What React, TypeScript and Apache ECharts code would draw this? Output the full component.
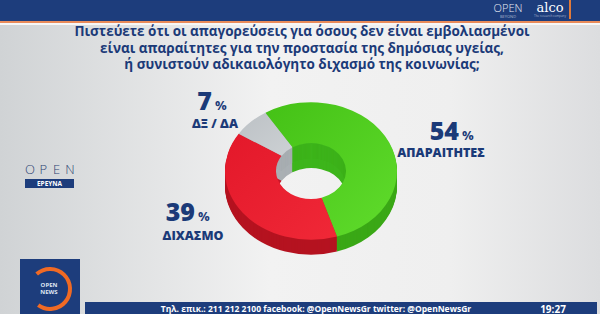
import React, { useEffect, useRef } from "react";
import * as echarts from "echarts";

const TITLE_LINES = [
  "Πιστεύετε ότι οι απαγορεύσεις για όσους δεν είναι εμβολιασμένοι",
  "είναι απαραίτητες για την προστασία της δημόσιας υγείας,",
  "ή συνιστούν αδικαιολόγητο διχασμό της κοινωνίας;",
];
const CATEGORIES = ["ΑΠΑΡΑΙΤΗΤΕΣ", "ΔΙΧΑΣΜΟ", "ΔΞ / ΔΑ"];
const VALUES = [54, 39, 7];
const TOP_COLORS = [
  ["#44c116", "#60dc2c"],
  ["#e3182a", "#f02837"],
  ["#bcc1c5", "#cdd1d4"],
];
const SIDE_COLORS = ["#3aa816", "#b51320", "#9ba1a6"];
const INNER_COLORS = ["#3db51b", "#c8172a", "#aab0b4"];
const TICKER = "Τηλ. επικ.: 211 212 2100 facebook: @OpenNewsGr twitter: @OpenNewsGr";
const CLOCK = "19:27";

// layout (not data)
const CX = 311;
const CY = 171;
const R = 86;
const R0 = 35;
const SY = 0.8;
const DEPTH = 15;
const INNER_DEPTH = 25;
const START_DEG = -32;
// [number right x, baseline y, name center x, name top y]
const LABEL_LAYOUT = [
  [459, 142, 441, 146],
  [195, 223, 193, 229],
  [212, 112, 215, 117],
];
const NAVY = "#1b3a78";
const FONT = "'Open Sans', 'Noto Sans', sans-serif";

function sliceAngles(i: number, v: number) {
  const total = VALUES.reduce((a, b) => a + b, 0);
  let acc = 0;
  for (let k = 0; k < i; k++) acc += VALUES[k];
  const s = START_DEG + (acc / total) * 360;
  const e = s + (v / total) * 360;
  return [((s - 90) * Math.PI) / 180, ((e - 90) * Math.PI) / 180];
}

export default function App() {
  const ref = useRef<HTMLDivElement>(null);
  useEffect(() => {
    document.body.style.margin = "0";
    const chart = echarts.init(ref.current!, null, { renderer: "svg" });
    const data = CATEGORIES.map((name, i) => ({ name, value: VALUES[i] }));

    const sideSeries: any = {
      type: "custom",
      coordinateSystem: "none",
      z: 2,
      data,
      renderItem: (params: any, api: any) => {
        const i = params.dataIndex;
        const [a0, a1] = sliceAngles(i, api.value(0));
        const children: any[] = [];
        for (let d = INNER_DEPTH; d > DEPTH; d--) {
          children.push({
            type: "group",
            x: CX,
            y: CY + d,
            scaleY: SY,
            children: [
              {
                type: "sector",
                shape: { cx: 0, cy: 0, r: R0 + 10, r0: R0, startAngle: a0, endAngle: a1, clockwise: true },
                style: { fill: INNER_COLORS[i] },
              },
            ],
          });
        }
        for (let d = DEPTH; d >= 1; d--) {
          children.push({
            type: "group",
            x: CX,
            y: CY + d,
            scaleY: SY,
            children: [
              {
                type: "sector",
                shape: { cx: 0, cy: 0, r: R, r0: R0, startAngle: a0, endAngle: a1, clockwise: true },
                style: { fill: SIDE_COLORS[i] },
              },
              {
                type: "sector",
                shape: { cx: 0, cy: 0, r: R0 + 10, r0: R0, startAngle: a0, endAngle: a1, clockwise: true },
                style: { fill: INNER_COLORS[i] },
              },
            ],
          });
        }
        return { type: "group", children };
      },
    };

    const topSeries: any = {
      type: "custom",
      coordinateSystem: "none",
      z: 3,
      data,
      renderItem: (params: any, api: any) => {
        const i = params.dataIndex;
        const v = api.value(0);
        const [a0, a1] = sliceAngles(i, v);
        const [nx, ny, tx, ty] = LABEL_LAYOUT[i];
        return {
          type: "group",
          children: [
            {
              type: "group",
              x: CX,
              y: CY,
              scaleY: SY,
              children: [
                {
                  type: "sector",
                  shape: { cx: 0, cy: 0, r: R, r0: R0, startAngle: a0, endAngle: a1, clockwise: true },
                  style: {
                    fill: new echarts.graphic.LinearGradient(0, 0, 1, 1, [
                      { offset: 0, color: TOP_COLORS[i][0] },
                      { offset: 1, color: TOP_COLORS[i][1] },
                    ]),
                  },
                },
              ],
            },
            {
              type: "text",
              x: nx,
              y: ny,
              style: {
                text: String(v),
                fill: NAVY,
                font: `900 25px ${FONT}`,
                textAlign: "right",
                textVerticalAlign: "bottom",
              },
            },
            {
              type: "text",
              x: nx + 3,
              y: ny - 1,
              style: {
                text: "%",
                fill: NAVY,
                font: `bold 13px ${FONT}`,
                textAlign: "left",
                textVerticalAlign: "bottom",
              },
            },
            {
              type: "text",
              x: tx,
              y: ty,
              style: {
                text: CATEGORIES[i],
                fill: NAVY,
                font: `800 12.5px ${FONT}`,
                textAlign: "center",
                textVerticalAlign: "top",
              },
            },
          ],
        };
      },
    };

    const openLetters = ["O", "P", "E", "N"];
    const graphic: any[] = [
      {
        type: "rect",
        z: -10,
        shape: { x: 0, y: 0, width: 600, height: 314 },
        style: {
          fill: new echarts.graphic.LinearGradient(0, 0, 1, 0, [
            { offset: 0, color: "#d0d3d5" },
            { offset: 0.45, color: "#f2f2f2" },
            { offset: 0.75, color: "#efefef" },
            { offset: 1, color: "#dcdddf" },
          ]),
        },
      },
      { type: "rect", z: 5, shape: { x: 0, y: 0, width: 600, height: 21 }, style: { fill: "#1d3d7c" } },
      { type: "rect", z: 5, shape: { x: 0, y: 21, width: 600, height: 2 }, style: { fill: "#e98b5a" } },
      { type: "rect", z: 5, shape: { x: 0, y: 23, width: 600, height: 2 }, style: { fill: "#f7f7f7" } },
      { type: "text", z: 6, x: 508, y: 7, style: { text: "OPEN", fill: "#e8ecf4", font: `300 11px ${FONT}`, textAlign: "center", textVerticalAlign: "middle" } },
      { type: "text", z: 6, x: 508, y: 16, style: { text: "BEYOND", fill: "#aab6cc", font: `4px ${FONT}`, textAlign: "center", textVerticalAlign: "middle" } },
      { type: "text", z: 6, x: 550, y: 7.5, style: { text: "alco", fill: "#ffffff", font: `13px 'DejaVu Serif', serif`, textAlign: "center", textVerticalAlign: "middle" } },
      { type: "text", z: 6, x: 550, y: 16, style: { text: "The research company", fill: "#aab6cc", font: `3px ${FONT}`, textAlign: "center", textVerticalAlign: "middle" } },
      { type: "rect", z: 6, shape: { x: 569, y: 0, width: 2, height: 19 }, style: { fill: "#e07a3a" } },
      {
        type: "text",
        z: 6,
        x: 302,
        y: 23,
        style: {
          text: TITLE_LINES.join("\n"),
          fill: NAVY,
          font: `bold 13.5px ${FONT}`,
          lineHeight: 16.5,
          textAlign: "center",
          textVerticalAlign: "top",
        },
      },
      ...openLetters.map((l, k) => ({
        type: "text",
        z: 6,
        x: 30 + k * 13.3,
        y: 169,
        style: { text: l, fill: "#2d4372", font: `300 13px ${FONT}`, textAlign: "center", textVerticalAlign: "middle" },
      })),
      { type: "rect", z: 6, shape: { x: 25, y: 179, width: 49, height: 9 }, style: { fill: "#1d3d7c" } },
      { type: "text", z: 7, x: 49.5, y: 183.5, style: { text: "ΕΡΕΥΝΑ", fill: "#ffffff", font: `bold 6.5px ${FONT}`, textAlign: "center", textVerticalAlign: "middle" } },
      { type: "rect", z: 6, shape: { x: 20, y: 259, width: 60, height: 55 }, style: { fill: "#1d3d7c" } },
      {
        type: "arc",
        z: 7,
        shape: { cx: 50, cy: 289, r: 20, startAngle: -2.3, endAngle: 2.2, clockwise: true },
        style: { stroke: "#f06a24", lineWidth: 4, fill: null },
      },
      { type: "text", z: 7, x: 49, y: 285, style: { text: "OPEN", fill: "#dfe6f2", font: `bold 6px ${FONT}`, textAlign: "center", textVerticalAlign: "middle" } },
      { type: "text", z: 7, x: 49, y: 292, style: { text: "NEWS", fill: "#dfe6f2", font: `bold 6px ${FONT}`, textAlign: "center", textVerticalAlign: "middle" } },
      { type: "rect", z: 6, shape: { x: 85, y: 302, width: 512, height: 12 }, style: { fill: "#1d3d7c" } },
      { type: "text", z: 7, x: 316, y: 308.5, style: { text: TICKER, fill: "#ffffff", font: `bold 8.5px ${FONT}`, textAlign: "center", textVerticalAlign: "middle" } },
      { type: "text", z: 7, x: 553, y: 308.5, style: { text: CLOCK, fill: "#ffffff", font: `bold 10px ${FONT}`, textAlign: "center", textVerticalAlign: "middle" } },
    ];

    chart.setOption({
      animation: false,
      backgroundColor: "#eeeeee",
      graphic,
      series: [sideSeries, topSeries],
    });
    return () => chart.dispose();
  }, []);
  return <div ref={ref} style={{ width: 600, height: 314 }} />;
}
